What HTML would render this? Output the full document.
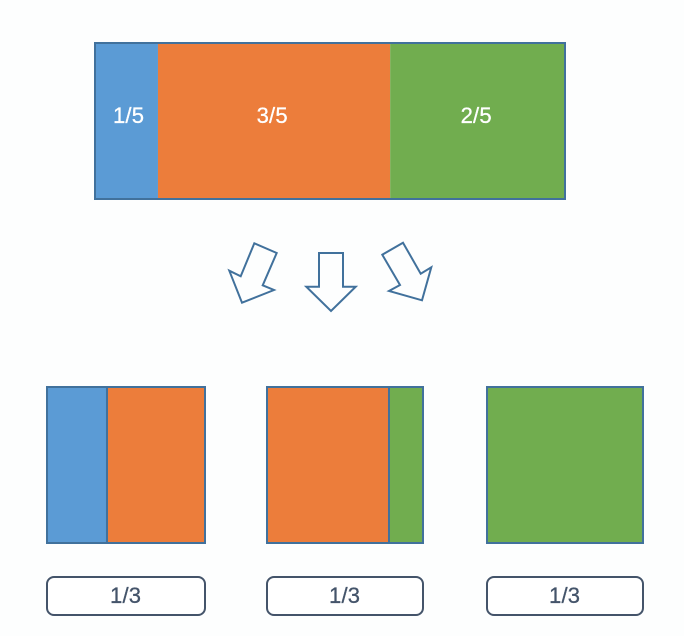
<!DOCTYPE html>
<html>
<head>
<meta charset="utf-8">
<title>Fraction diagram</title>
<style>
html,body{margin:0;padding:0;background:#fdfefe;}
svg{display:block;}
text{font-family:"Liberation Sans",sans-serif;}
</style>
</head>
<body>
<svg id="chart" width="684" height="636" viewBox="0 0 684 636" xmlns="http://www.w3.org/2000/svg"></svg>
<script>
var topCategories = ["1/5", "3/5", "2/5"];
var topValues = [13.4, 49.4, 37.2];
var topColors = ["#5b9bd5", "#ec7d3b", "#71ad4f"];
var lowerFirstValues = [37.97, 62.03];
var lowerSecondValues = [78.2, 21.8];
var lowerThirdValues = [100];
var lowerLabels = ["1/3", "1/3", "1/3"];

var NS = "http://www.w3.org/2000/svg";
var svg = document.getElementById("chart");
var BORDER = "#41719c";
var DARK = "#44546a";
var LABEL_WIDTH = 31;

function make(tag, attrs, parent) {
  var el = document.createElementNS(NS, tag);
  for (var k in attrs) el.setAttribute(k, attrs[k]);
  parent.appendChild(el);
  return el;
}
function xScale(value, x0, x1) {
  return x0 + (value / 100) * (x1 - x0);
}
function stackedBox(name, values, colors, x0, x1, y0, y1, dividers) {
  var group = make("g", {}, svg);
  
  
  var acc = 0;
  var edges = [];
  values.forEach(function (v, i) {
    var a = xScale(acc, x0, x1);
    var b = xScale(acc + v, x0, x1);
    var seg = make("rect", { x: a, y: y0, width: b - a, height: y1 - y0, fill: colors[i] }, group);
    
    
    acc += v;
    if (i < values.length - 1) edges.push(b);
  });
  if (dividers) {
    edges.forEach(function (b) {
      var div = make("line", { x1: b, x2: b, y1: y0, y2: y1, stroke: BORDER, "stroke-width": 2 }, group);
      
      
    });
  }
  var frame = make("rect", { x: x0, y: y0, width: x1 - x0, height: y1 - y0, fill: "none", stroke: BORDER, "stroke-width": 2 }, group);
  
  
  return group;
}
function fractionText(parent, name, label, cx, y, color) {
  var t = make("text", {
    x: cx - LABEL_WIDTH / 2, y: y,
    "font-size": 22, fill: color, stroke: color, "stroke-width": 0.3,
    textLength: LABEL_WIDTH, lengthAdjust: "spacing"
  }, parent);
  
  
  t.textContent = label;
}

/* top bar */
var topGroup = stackedBox("top-stacked-bar", topValues, topColors, 95, 565, 43, 199, false);
var labelNudges = [2, -2, -1.5];
var topAcc = 0;
topValues.forEach(function (v, i) {
  var mid = xScale(topAcc + v / 2, 95, 565);
  topAcc += v;
  fractionText(topGroup, "segment-label", topCategories[i], mid + labelNudges[i], 123, "#ffffff");
});

/* arrows */
var arrowShapes = [
  { name: "arrow-down-left", pts: "254.3,243.3 276.7,253 262.7,285.3 274,290 242,302.7 229.3,270.7 240.7,276.3" },
  { name: "arrow-down", pts: "319,253 343,253 343,286.7 355.7,286.7 331,311 306.3,286.7 319,286.7" },
  { name: "arrow-down-right", pts: "403,242.7 420.7,273.7 431.3,267.3 422,300.3 389,291 400,285 382.3,254.7" }
];
arrowShapes.forEach(function (a) {
  var p = make("polygon", { points: a.pts, fill: "#fdfefe", stroke: BORDER, "stroke-width": 2 }, svg);
  
  
});

/* lower boxes */
stackedBox("lower-box-1", lowerFirstValues, [topColors[0], topColors[1]], 47, 205, 387, 543, true);
stackedBox("lower-box-2", lowerSecondValues, [topColors[1], topColors[2]], 267, 423, 387, 543, true);
stackedBox("lower-box-3", lowerThirdValues, [topColors[2]], 487, 643, 387, 543, false);

/* label pills */
var pillLefts = [47, 267, 487];
var pillWidths = [158, 156, 156];
lowerLabels.forEach(function (label, i) {
  var g = make("g", {}, svg);
  
  
  make("rect", { x: pillLefts[i], y: 577, width: pillWidths[i], height: 38, rx: 7, ry: 7, fill: "#ffffff", stroke: DARK, "stroke-width": 2 }, g);
  fractionText(g, "probability-text", label, pillLefts[i] + pillWidths[i] / 2 - 0.5, 603, DARK);
});
</script>
</body>
</html>
